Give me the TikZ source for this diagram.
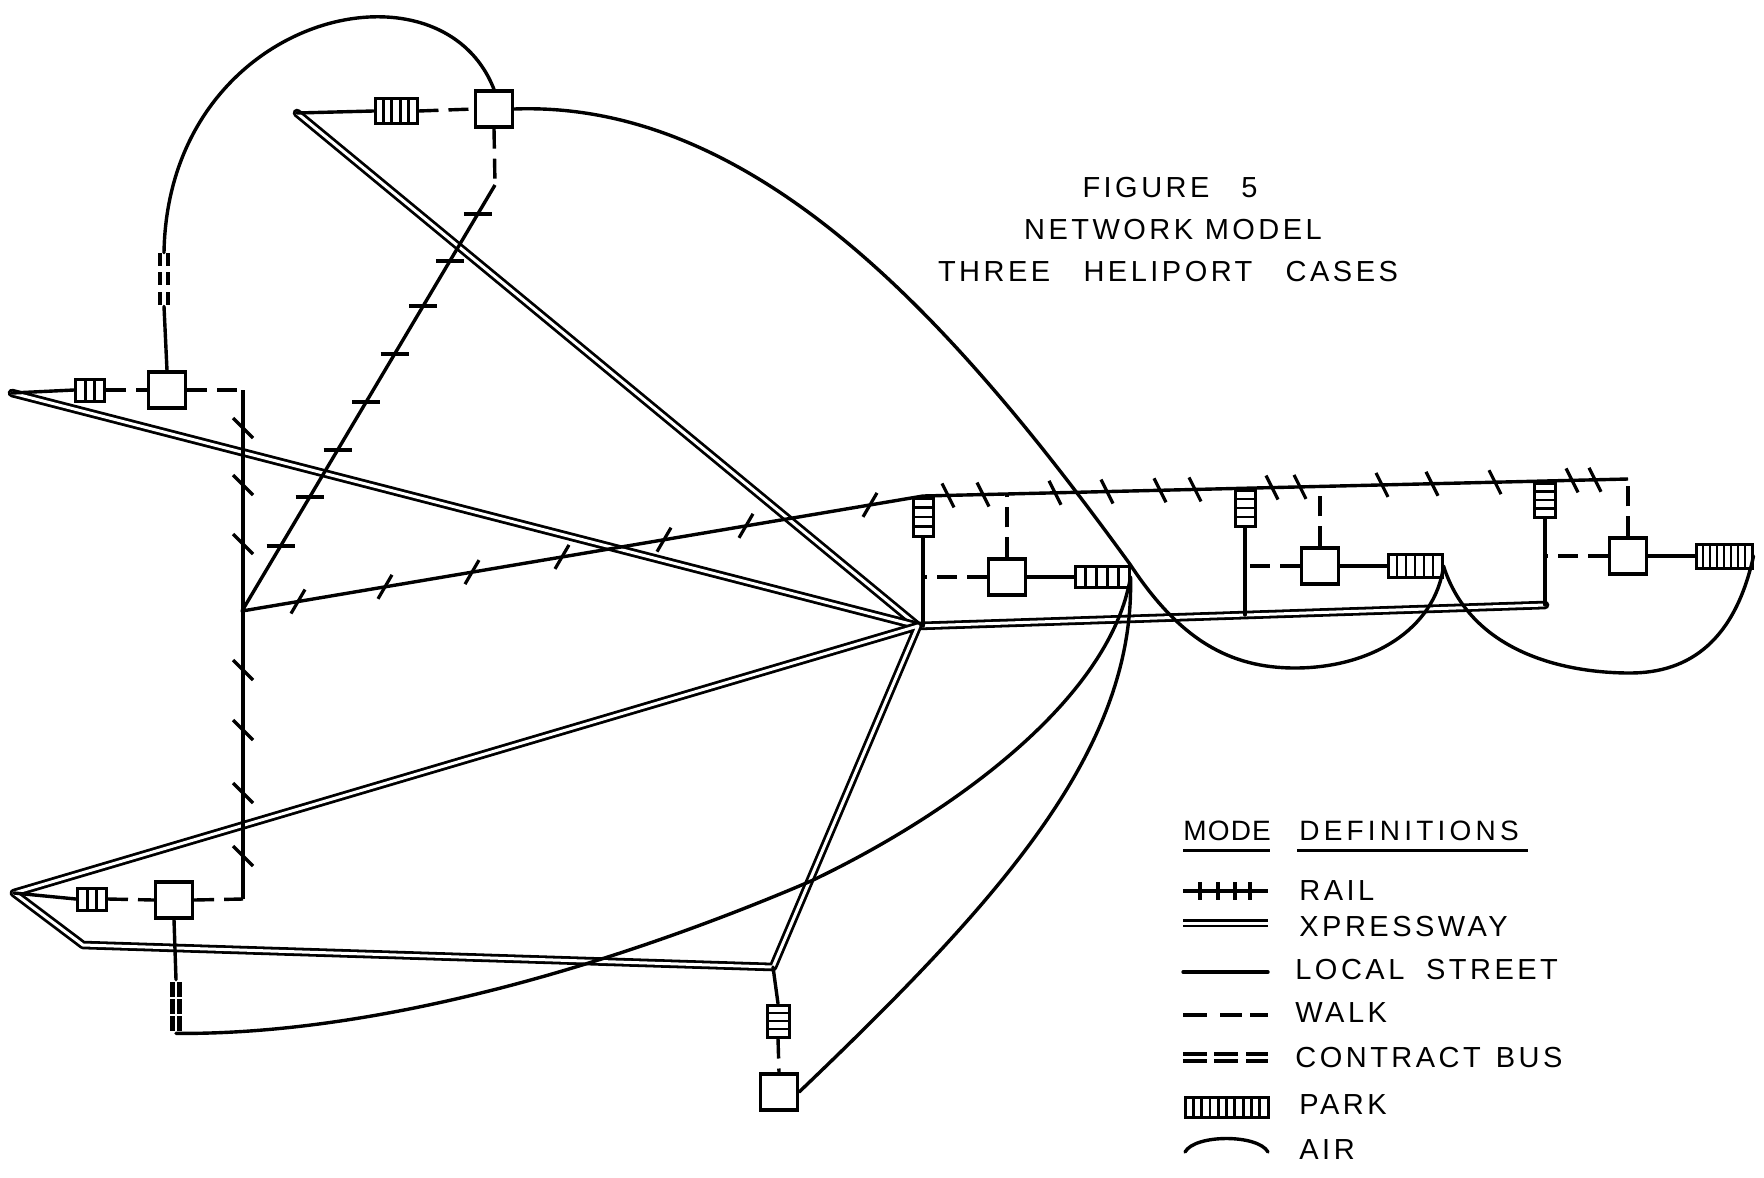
\documentclass[tikz,border=0pt]{standalone}
\usepackage{fontspec}
\setmainfont{Liberation Sans}
\newfontfamily\lett[LetterSpace=12]{Liberation Sans}
\newfontfamily\lettw[LetterSpace=15]{Liberation Sans}
\newfontfamily\lettn[LetterSpace=4]{Liberation Sans}
\usetikzlibrary{calc}
\tikzset{
  ln/.style={line width=1.7pt, line cap=round, line join=round},
  xway/.style={double, line width=1.4pt, double distance=1.5pt, line join=round, line cap=round},
  walk/.style={line width=1.7pt, dash pattern=on 10pt off 5pt},
  rail/.style={line width=1.7pt, line join=round},
  tick/.style={line width=1.6pt},
  air/.style={line width=1.7pt, line cap=round},
  heli/.style={draw, fill=white, line width=1.6pt, minimum width=18.5pt, minimum height=18pt, inner sep=0pt},
  parkh/.style n args={3}{draw, fill=white, line width=1.5pt, inner sep=0pt, minimum width=#1, minimum height=#2,
    path picture={
      \foreach \i in {1,...,#3}{
        \pgfmathsetmacro\fr{\i/(#3+1)}
        \draw[line width=1.4pt] ($(path picture bounding box.south west)!\fr!(path picture bounding box.south east)$) -- ($(path picture bounding box.north west)!\fr!(path picture bounding box.north east)$);
      }}},
  parkv/.style n args={3}{draw, fill=white, line width=1.5pt, inner sep=0pt, minimum width=#1, minimum height=#2,
    path picture={
      \foreach \i in {1,...,#3}{
        \pgfmathsetmacro\fr{\i/(#3+1)}
        \draw[line width=1.4pt] ($(path picture bounding box.south west)!\fr!(path picture bounding box.north west)$) -- ($(path picture bounding box.south east)!\fr!(path picture bounding box.north east)$);
      }}},
  cbnode/.style={inner sep=0pt, minimum width=8pt, minimum height=#1},
  cbd/.style={line width=2.4pt},
  ttl/.style={font=\lett\fontsize{14.5}{17}\selectfont, inner sep=0pt},
  lbl/.style={font=\lett\fontsize{14.5}{17}\selectfont, inner sep=0pt, anchor=west},
  hdr/.style={font=\lettw\fontsize{14}{16}\selectfont, inner sep=0pt, anchor=west},
}
\begin{document}
\begin{tikzpicture}[x=0.5pt,y=-0.5pt]
\useasboundingbox (0,0) rectangle (1764,1177);

% ---------- nodes ----------
\node[heli] (hT) at (494,109) {};
\node[parkh={21pt}{12pt}{4}] (pT) at (396,111) {};
\coordinate (tipT) at (297,113);

\node[heli] (hL) at (167,390) {};
\node[parkh={14.5pt}{11pt}{2}] (pL) at (90,390) {};
\coordinate (tipL) at (12,393);
\node[cbnode=26.5pt] (cb1) at (164,279.5) {};

\node[heli] (hB) at (174,900) {};
\node[parkh={14.5pt}{11pt}{2}] (pB) at (92,899) {};
\coordinate (tipB) at (14,893);
\coordinate (bendB) at (83,945);
\node[cbnode=26.5pt] (cb2) at (176,1006.5) {};

\coordinate (vtx) at (773,967);
\node[parkv={11pt}{16pt}{3}] (vBot) at (778,1021) {};
\node[heli] (hBot) at (779,1092) {};

\coordinate (hub) at (918,626);
\node[heli] (h1) at (1007,577) {};
\node[parkh={27pt}{10.5pt}{4}] (p1) at (1102,577) {};
\node[parkv={10pt}{19pt}{3}] (v1) at (923,517) {};
\node[heli] (h2) at (1320,566) {};
\node[parkh={27pt}{11.5pt}{5}] (p2) at (1415,566) {};
\node[parkv={10pt}{18pt}{3}] (v2) at (1245,508) {};
\node[heli] (h3) at (1628,556) {};
\node[parkh={28pt}{12pt}{7}] (p3) at (1724,556) {};
\node[parkv={10.5pt}{17pt}{3}] (v3) at (1545,500) {};

\coordinate (XE) at (1545,605);
\coordinate (x2) at (1245,615);
\coordinate (x1) at (923,626);

\coordinate (W) at (495,185);
\coordinate (J) at (242,611);
\coordinate (K) at (923,496);
\coordinate (R3) at (1628,479);
\coordinate (LC) at (243,390);
\coordinate (BC) at (243,899);
\coordinate (r1) at (1007,494);
\coordinate (r2) at (1320,487);

% ---------- expressways ----------
\draw[xway] (tipT) -- (hub) -- (XE);
\draw[xway] (tipL) -- (hub);
\draw[xway] (hub) -- (tipB) -- (bendB) -- (vtx) -- cycle;

% ---------- rail ----------
\draw[rail] (W) -- (J) -- (K) -- (R3);
\draw[rail] (LC) -- (BC);
\foreach \yy in {214,261,306,354,402,450,497,546}
  \draw[tick] ({495-(\yy-185)*0.594-14},\yy) -- ++(28,0);
\foreach \yy in {428,485,544,670,730,793,856}
  \draw[tick] (233,{\yy-10}) -- ++(20,20);
\foreach \xx in {298,385,472,562,664,746,870}
  \draw[tick] ({\xx-7},{611-(\xx-242)*0.169+12}) -- ++(14,-24);
\foreach \xx in {948,983,1055,1107,1160,1195,1272,1300,1382,1432,1495,1572,1595}
  \draw[tick] ({\xx-6},{496-(\xx-923)*0.0241-12}) -- ++(12,24);

% ---------- local streets and walks ----------
\draw[ln] (tipT) -- (pT.west);
\draw[walk] (pT.east) -- (hT.west);
\draw[walk] (hT.south) -- (W);

\draw[ln] (tipL) -- (pL.west);
\draw[walk] (pL.east) -- (hL.west);
\draw[walk] (hL.east) -- (LC);
\draw[ln] (hL.north) -- (cb1.south);

\draw[ln] (tipB) -- (pB.west);
\draw[walk] (pB.east) -- (hB.west);
\draw[walk] (hB.east) -- (BC);
\draw[ln] (hB.south) -- (cb2.north);

\draw[ln] (vtx) -- (vBot.north);
\draw[walk] (vBot.south) -- (hBot.north);

\draw[ln] (v1.south) -- (x1);
\draw[ln] (v2.south) -- (x2);
\draw[ln] (v3.south) -- (XE);
\draw[walk] (h1.west) -- (h1.west -| v1.south);
\draw[walk] (h2.west) -- (h2.west -| v2.south);
\draw[walk] (h3.west) -- (h3.west -| v3.south);
\draw[walk] (h1.north) -- (r1);
\draw[walk] (h2.north) -- (r2);
\draw[walk] (h3.north) -- (R3);
\draw[ln] (h1.east) -- (p1.west);
\draw[ln] (h2.east) -- (p2.west);
\draw[ln] (h3.east) -- (p3.west);

% ---------- contract bus symbols ----------
\foreach \dy in {-20,-1,19} \foreach \dx in {-4,4}
  \draw[cbd] ([shift={(\dx,\dy-6.5)}]cb1.center) -- ++(0,13);
\foreach \dy in {-17,0,17} \foreach \dx in {-3.5,3.5}
  \draw[cbd] ([shift={(\dx,\dy-7.5)}]cb2.center) -- ++(0,15);

% ---------- air ----------
\draw[air] (cb1.north) .. controls (168,15) and (440,-50) .. (hT.north);
\draw[air] (hT.east) .. controls (760,100) and (960,330) .. (p1.north east)
  .. controls (1180,640) and (1230,668) .. (1295,668)
  .. controls (1370,668) and (1435,630) .. (p2.east);
\draw[air] (p2.east) .. controls (1470,650) and (1560,673) .. (1630,673)
  .. controls (1690,673) and (1735,640) .. (p3.east);
\draw[air] (p1.east) .. controls (1110,700) and (950,815) .. (811,881)
  .. controls (650,950) and (400,1035) .. (cb2.south);
\draw[air] (hBot.east) .. controls (1000,900) and (1135,750) .. (p1.east);

% ---------- title ----------
\node[ttl] (t1) at (1170,188) {FIGURE\hspace{1.1em}5};
\node[ttl] (t2) at (1173,230) {NETWORK MODEL};
\node[ttl] (t3) at (1168,272) {THREE\hspace{0.75em} HELIPORT\hspace{0.75em} CASES};

% ---------- legend ----------
\node[hdr, font=\lettn\fontsize{14}{16}\selectfont] (lmode) at (1183,831) {MODE};
\node[hdr] (ldef) at (1299,831) {DEFINITIONS};
\draw[line width=1.5pt] (1183,850) -- (1270,850);
\draw[line width=1.5pt] (1297,850) -- (1528,850);

\coordinate (lr0) at (1183,891); \coordinate (lr1) at (1268,891);
\draw[rail] (lr0) -- (lr1);
\foreach \xx in {1200,1218,1235,1250} \draw[tick] (\xx,882) -- (\xx,900);
\node[lbl] (tRail) at (1299,891) {RAIL};

\coordinate (lx0) at (1183,923); \coordinate (lx1) at (1268,923);
\draw[xway, line cap=butt] (lx0) -- (lx1);
\node[lbl] (tX) at (1299,927) {XPRESSWAY};

\coordinate (ll0) at (1183,972); \coordinate (ll1) at (1268,972);
\draw[ln] (ll0) -- (ll1);
\node[lbl] (tL) at (1295,970) {LOCAL\hspace{0.35em} STREET};

\draw[line width=1.7pt] (1183,1015) -- (1207,1015);
\draw[line width=1.7pt] (1220,1015) -- (1242,1015);
\draw[line width=1.7pt] (1250,1015) -- (1268,1015);
\node[lbl] (tW) at (1295,1013) {WALK};

\foreach \xa/\xb in {1183/1207,1214/1238,1246/1268} \foreach \dy in {-3.5,3.5}
  \draw[cbd, line width=2pt] (\xa,1057+\dy) -- (\xb,1057+\dy);
\node[lbl] (tC) at (1295,1057) {CONTRACT\hspace{0.12em} BUS};

\node[parkh={41.5pt}{10pt}{9}] (lpark) at (1226.5,1107) {};
\node[lbl] (tP) at (1299,1105) {PARK};

\draw[air] (1185,1152) .. controls (1195,1134) and (1258,1134) .. (1268,1152);
\node[lbl] (tA) at (1299,1150) {AIR};
\end{tikzpicture}
\end{document}
